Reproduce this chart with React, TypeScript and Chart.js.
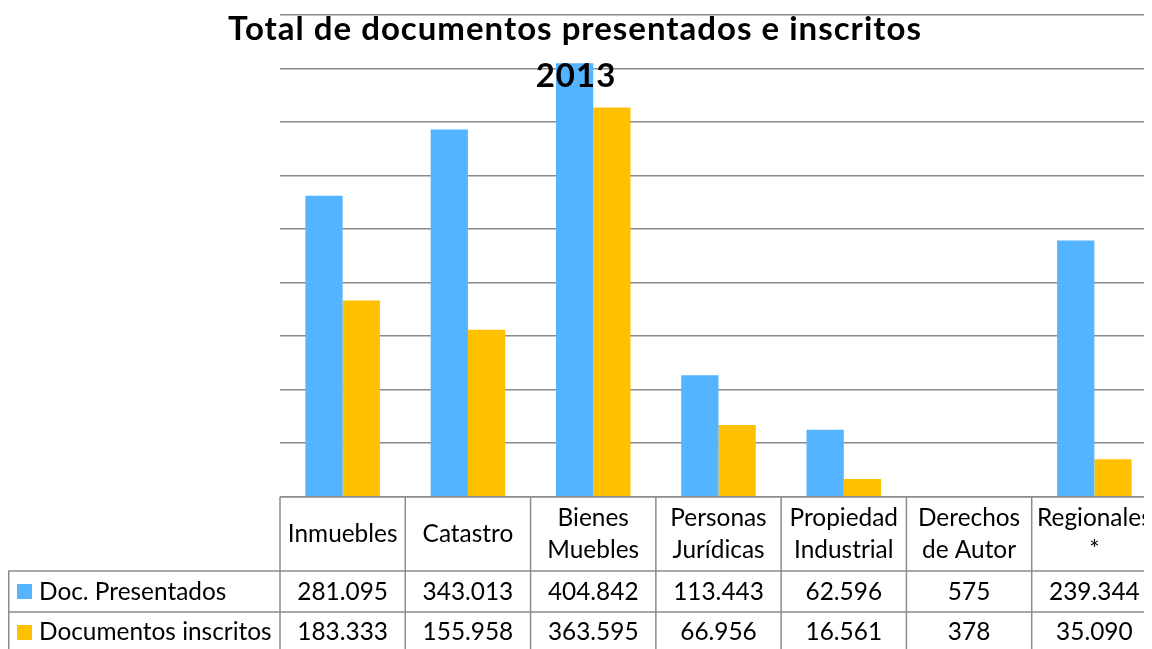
import React, { useEffect, useRef } from "react";
import { Chart, registerables } from "chart.js";

Chart.register(...registerables);

const categories: string[][] = [
  ["Inmuebles"],
  ["Catastro"],
  ["Bienes", "Muebles"],
  ["Personas", "Jurídicas"],
  ["Propiedad", "Industrial"],
  ["Derechos", "de Autor"],
  ["Regionales", "*"],
];
const seriesNames = ["Doc. Presentados", "Documentos inscritos"];
const docPresentados = [281095, 343013, 404842, 113443, 62596, 575, 239344];
const docInscritos = [183333, 155958, 363595, 66956, 16561, 378, 35090];
const yMax = 450000;
const yStep = 50000;
const titleLines = ["Total de documentos presentados e inscritos", "2013"];
const seriesColors = ["#55B4FF", "#FFC000"];

const FONT = "Lato, 'Open Sans', sans-serif";
const W = 1150;
const H = 650;

function fmt(n: number): string {
  return String(n).replace(/\B(?=(\d{3})+(?!\d))/g, ".");
}

const tablePlugin = {
  id: "dataTable",
  afterDraw(chart: any) {
    const ctx: CanvasRenderingContext2D = chart.ctx;
    const { left, right, bottom } = chart.chartArea;
    const xs = chart.scales.x;
    const n = categories.length;
    const colW = (right - left) / n;
    const row1 = 563;
    const row2 = 604;
    ctx.save();
    ctx.strokeStyle = "#8c8c8c";
    ctx.lineWidth = 1.5;
    ctx.beginPath();
    ctx.moveTo(left, bottom);
    ctx.lineTo(right, bottom);
    ctx.moveTo(0, row1);
    ctx.lineTo(right, row1);
    ctx.moveTo(0, row2);
    ctx.lineTo(right, row2);
    ctx.moveTo(0.75, row1);
    ctx.lineTo(0.75, H);
    for (let i = 0; i <= n; i++) {
      const x = left + i * colW;
      ctx.moveTo(x, bottom);
      ctx.lineTo(x, H);
    }
    ctx.stroke();

    ctx.fillStyle = "#000";
    ctx.font = `24.4px ${FONT}`;
    ctx.textAlign = "center";
    ctx.textBaseline = "alphabetic";
    const allSeries = [docPresentados, docInscritos];
    for (let i = 0; i < n; i++) {
      const cx = xs.getPixelForValue(i);
      const lines = categories[i];
      if (lines.length === 1) {
        ctx.fillText(lines[0], cx, 533.7);
      } else {
        ctx.fillText(lines[0], cx, 518);
        ctx.fillText(lines[1], cx, 550.3);
      }
      ctx.fillText(fmt(allSeries[0][i]), cx, 592);
      ctx.fillText(fmt(allSeries[1][i]), cx, 632);
    }
    ctx.textAlign = "left";
    const rowBase = [592, 632];
    const sqTop = [576, 617];
    for (let s = 0; s < 2; s++) {
      ctx.fillStyle = seriesColors[s];
      ctx.fillRect(9, sqTop[s], 15, 15);
      ctx.fillStyle = "#000";
      ctx.fillText(seriesNames[s], 31, rowBase[s]);
    }

    ctx.font = `bold 33px ${FONT}`;
    (ctx as any).letterSpacing = "1px";
    ctx.textAlign = "center";
    ctx.fillText(titleLines[0], 567, 32);
    ctx.fillText(titleLines[1], 568, 79);
    ctx.restore();
  },
};

export default function App() {
  const ref = useRef<HTMLCanvasElement | null>(null);
  useEffect(() => {
    if (!ref.current) return;
    const chart = new Chart(ref.current, {
      type: "bar",
      data: {
        labels: categories.map((c) => c.join(" ")),
        datasets: [
          {
            label: seriesNames[0],
            data: docPresentados,
            backgroundColor: seriesColors[0],
            categoryPercentage: 0.595,
            barPercentage: 1.0,
          },
          {
            label: seriesNames[1],
            data: docInscritos,
            backgroundColor: seriesColors[1],
            categoryPercentage: 0.595,
            barPercentage: 1.0,
          },
        ],
      },
      options: {
        responsive: false,
        animation: false,
        layout: { padding: { left: 272, right: 1, top: 7, bottom: H - 488.7 } },
        plugins: { legend: { display: false }, tooltip: { enabled: false } },
        scales: {
          x: { display: false },
          y: {
            min: 0,
            max: yMax,
            ticks: { display: false, stepSize: yStep },
            grid: { color: "#8a8a8a", lineWidth: 1.5, drawTicks: false },
            border: { display: false },
          },
        },
      },
      plugins: [tablePlugin],
    });
    return () => chart.destroy();
  }, []);
  return (
    <div style={{ width: 1144, height: 641, overflow: "hidden" }}>
      <canvas ref={ref} width={W} height={H} style={{ display: "block" }} />
    </div>
  );
}
